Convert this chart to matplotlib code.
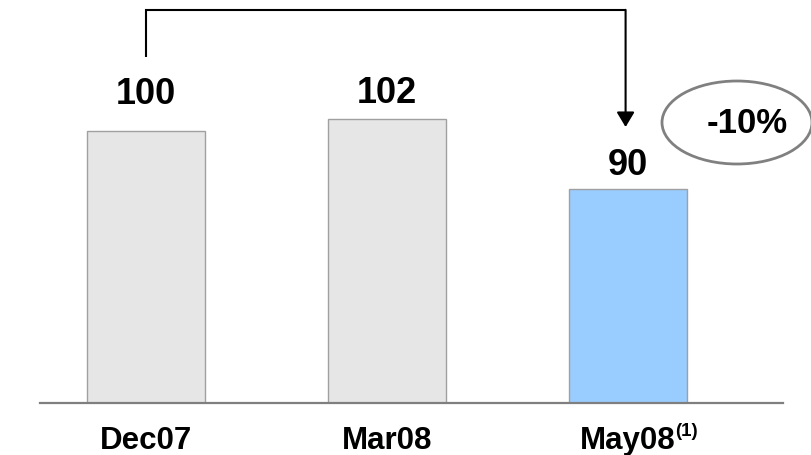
import matplotlib
matplotlib.use("Agg")
import matplotlib.pyplot as plt
from matplotlib.patches import Ellipse

# data
categories = ["Dec07", "Mar08", "May08"]
values = [100, 102, 90]
bar_colors = ["#E6E6E6", "#E6E6E6", "#99CCFF"]
change_label = "-10%"
footnote = "(1)"
label_gap_px = [28, 17, 15]   # gap between bar top and value label

plt.rcParams['font.family'] = ['Liberation Sans', 'DejaVu Sans']

fig = plt.figure(figsize=(8.12, 4.56), dpi=100)
ax = fig.add_axes([0, 0.1151, 1, 0.8849])
ax.set_xlim(-0.6058, 2.7635)
ax.set_ylim(53.2, 122.77)   # axis does not start at zero in the original
ax.axis("off")

x = list(range(len(categories)))
ax.bar(x, values, width=0.49, color=bar_colors, edgecolor="#A0A0A0", linewidth=1.0, zorder=2)

# baseline
ax.axhline(53.2, xmin=40/812, xmax=783/812, color="#7F7F7F", linewidth=1.6, zorder=3, clip_on=False)

# value labels
for xi, v, gap in zip(x, values, label_gap_px):
    ax.annotate(str(v), (xi, v), xytext=(0, gap * 0.72), textcoords="offset points",
                ha="center", va="baseline", fontsize=26, fontweight="bold")

# category labels
trans = ax.get_xaxis_transform()
labs = []
for xi, c in zip(x, categories):
    t = ax.text(xi, -0.1128, c, transform=trans, ha="center", va="baseline",
                fontsize=22.5, fontweight="bold")
    labs.append(t)
ax.annotate(footnote, xy=(1.0, 0.0), xycoords=labs[-1], xytext=(-0.5, 14.5),
            textcoords="offset points", ha="left", va="baseline",
            fontsize=13.5, fontweight="bold")

# bracket from first to last bar
ax.plot([0, 0, 1.99], [112.8, 120.9, 120.9], color="black", linewidth=1.5,
        solid_capstyle="butt", solid_joinstyle="miter", clip_on=False, zorder=4)
ax.annotate("", xy=(1.99, 100.7), xytext=(1.99, 120.9),
            arrowprops=dict(arrowstyle="-|>,head_length=0.45,head_width=0.27",
                            mutation_scale=20, color="black", linewidth=1.5,
                            shrinkA=0, shrinkB=0))

# change bubble
ell = Ellipse((737/812, 1 - 123.5/456), 150/812, 83/456, transform=fig.transFigure,
              facecolor="white", edgecolor="#808080", linewidth=2.0, clip_on=False)
fig.add_artist(ell)
fig.text(747/812, 1 - 124/456, change_label, ha="center", va="center",
         fontsize=25, fontweight="bold")

fig.savefig("out.png", dpi=100)
